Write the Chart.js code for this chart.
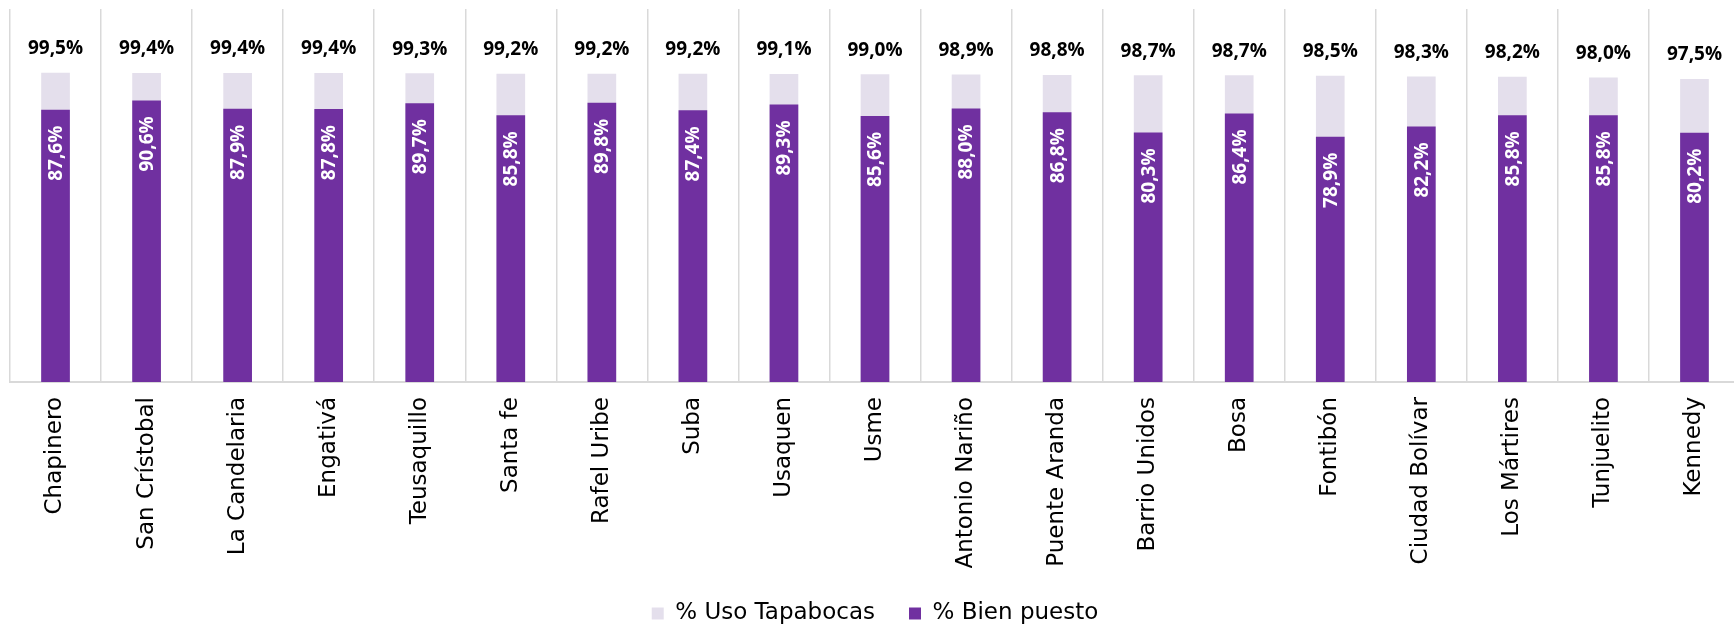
<!DOCTYPE html>
<html>
<head>
<meta charset="utf-8">
<script src="https://cdn.jsdelivr.net/npm/chart.js@4.4.1/dist/chart.umd.min.js"></script>
<style>
  html, body { margin: 0; padding: 0; background: #fff; overflow: hidden; }
  #wrap { position: relative; width: 1745px; height: 635px; }
</style>
</head>
<body>
<div id="wrap"><canvas id="c"></canvas></div>
<script>
const categories = ["Chapinero", "San Crístobal", "La Candelaria", "Engativá", "Teusaquillo", "Santa fe", "Rafel Uribe", "Suba", "Usaquen", "Usme", "Antonio Nariño", "Puente Aranda", "Barrio Unidos", "Bosa", "Fontibón", "Ciudad Bolívar", "Los Mártires", "Tunjuelito", "Kennedy"];
const usoTapabocas = [99.5, 99.4, 99.4, 99.4, 99.3, 99.2, 99.2, 99.2, 99.1, 99.0, 98.9, 98.8, 98.7, 98.7, 98.5, 98.3, 98.2, 98.0, 97.5];
const bienPuesto = [87.6, 90.6, 87.9, 87.8, 89.7, 85.8, 89.8, 87.4, 89.3, 85.6, 88.0, 86.8, 80.3, 86.4, 78.9, 82.2, 85.8, 85.8, 80.2];
const seriesNames = ["% Uso Tapabocas", "% Bien puesto"];

const fmt = v => v.toFixed(1).replace('.', ',') + '%';

const labelPlugin = {
  id: 'barLabels',
  afterDatasetsDraw(chart) {
    const ctx = chart.ctx;
    ctx.save();
    ctx.font = 'bold 19px "Open Sans"';
    const m0 = chart.getDatasetMeta(0);
    ctx.fillStyle = '#000';
    ctx.textAlign = 'center';
    ctx.textBaseline = 'middle';
    m0.data.forEach((bar, i) => {
      ctx.fillText(fmt(usoTapabocas[i]), bar.x, bar.y - 24);
    });
    const m1 = chart.getDatasetMeta(1);
    ctx.fillStyle = '#fff';
    m1.data.forEach((bar, i) => {
      ctx.save();
      ctx.translate(bar.x, bar.y + 16);
      ctx.rotate(-Math.PI / 2);
      ctx.textAlign = 'right';
      ctx.textBaseline = 'middle';
      ctx.fillText(fmt(bienPuesto[i]), 0, 1);
      ctx.restore();
    });
    ctx.restore();
  }
};

new Chart(document.getElementById('c'), {
  type: 'bar',
  data: {
    labels: categories,
    datasets: [
      { label: seriesNames[0], data: usoTapabocas, backgroundColor: '#E4DFEC', order: 1,
        barPercentage: 0.315, categoryPercentage: 1 },
      { label: seriesNames[1], data: bienPuesto, backgroundColor: '#7030A0', order: 0,
        barPercentage: 0.315, categoryPercentage: 1 }
    ]
  },
  options: {
    responsive: true,
    maintainAspectRatio: false,
    animation: false,
    devicePixelRatio: 1,
    layout: { padding: { left: 10, right: 5, top: 9, bottom: 0 } },
    plugins: {
      tooltip: { enabled: false },
      legend: {
        position: 'bottom',
        labels: {
          sort: (a, b) => a.datasetIndex - b.datasetIndex,
          boxWidth: 12, boxHeight: 12, padding: 34,
          color: '#000',
          font: { family: '"DejaVu Sans"', size: 23 }
        }
      }
    },
    scales: {
      x: {
        stacked: true,
        grid: { offset: true, color: '#d9d9d9', lineWidth: 1.5, drawTicks: false },
        border: { color: '#d9d9d9', width: 2 },
        ticks: {
          minRotation: 90, maxRotation: 90, autoSkip: false, padding: 15,
          color: '#000',
          font: { family: '"DejaVu Sans"', size: 23 }
        },
        afterFit(scale) { scale.height = 186; }
      },
      y: {
        display: false, stacked: false, min: 0, max: 120
      }
    }
  },
  plugins: [labelPlugin]
});
</script>
</body>
</html>
